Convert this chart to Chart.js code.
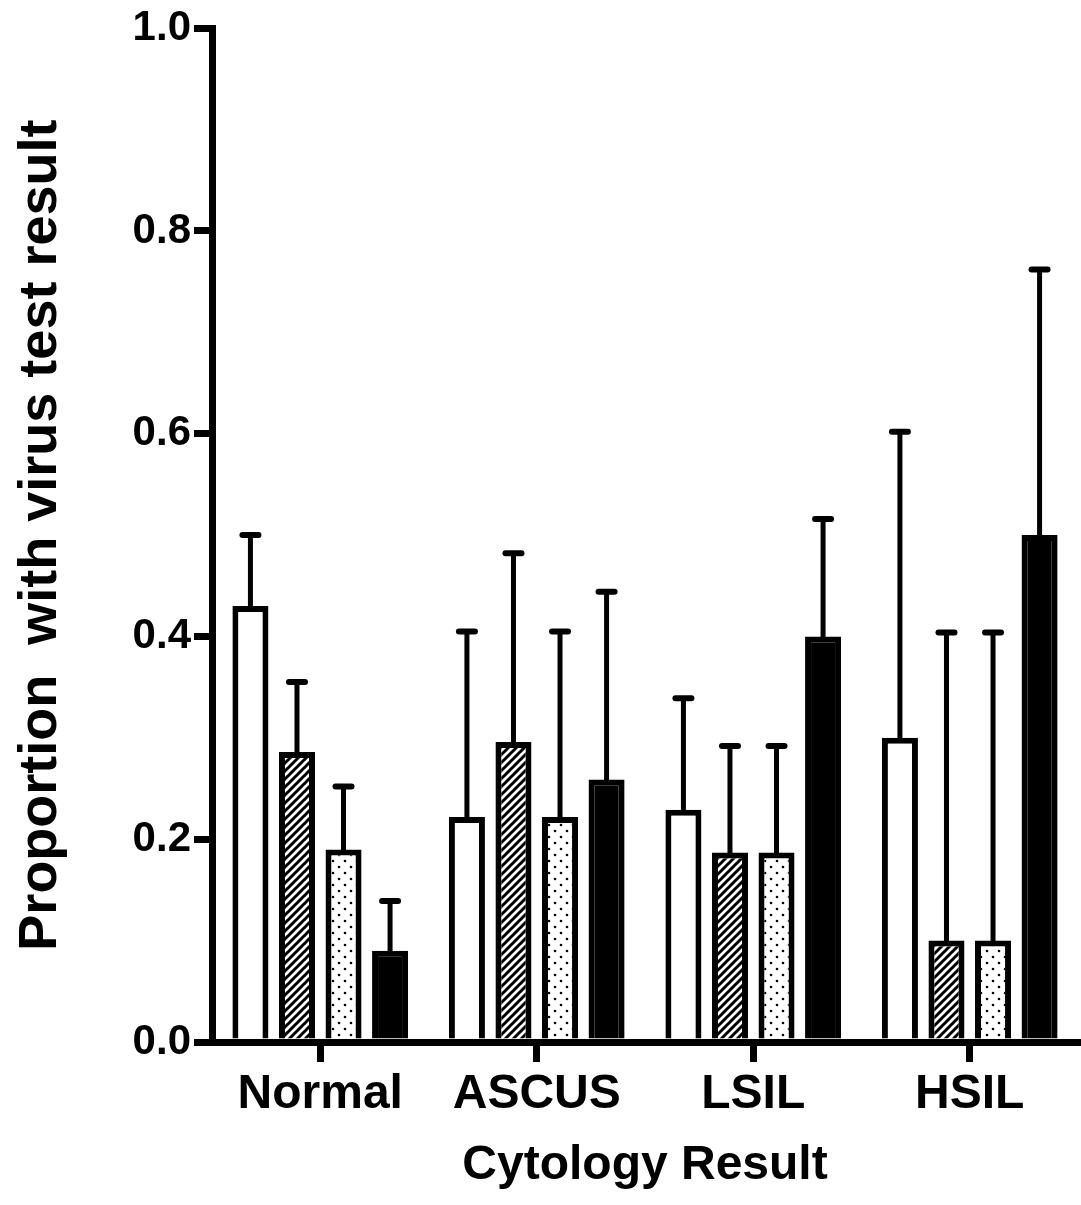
<!DOCTYPE html>
<html>
<head>
<meta charset="utf-8">
<script src="https://cdn.jsdelivr.net/npm/chart.js@4.4.1/dist/chart.umd.min.js"></script>
<style>
  html, body { margin: 0; padding: 0; background: #fff; }
  #wrap { width: 1081px; height: 1205px; position: relative; }
</style>
</head>
<body>
<div id="wrap"><canvas id="chart"></canvas></div>
<script>
// categories and values
const categories = ['Normal', 'ASCUS', 'LSIL', 'HSIL'];
const yTicks = [0.0, 0.2, 0.4, 0.6, 0.8, 1.0];

const openVals    = [0.430, 0.222, 0.229, 0.300];
const openTop     = [0.500, 0.405, 0.339, 0.602];
const hatchedVals = [0.286, 0.296, 0.187, 0.100];
const hatchedTop  = [0.355, 0.482, 0.292, 0.404];
const dottedVals  = [0.190, 0.222, 0.187, 0.100];
const dottedTop   = [0.252, 0.405, 0.292, 0.404];
const solidVals   = [0.090, 0.259, 0.400, 0.500];
const solidTop    = [0.139, 0.444, 0.516, 0.762];

Chart.defaults.color = '#000';
Chart.defaults.font.family = '"Liberation Sans", Arial, sans-serif';
Chart.defaults.font.weight = 'bold';

// fill patterns
function hatchPattern() {
  const s = 8;
  const c = document.createElement('canvas');
  c.width = s; c.height = s;
  const g = c.getContext('2d');
  g.fillStyle = '#fff';
  g.fillRect(0, 0, s, s);
  g.strokeStyle = '#000';
  g.lineWidth = 3;
  g.beginPath();
  g.moveTo(0, s); g.lineTo(s, 0);
  g.moveTo(-2, 2); g.lineTo(2, -2);
  g.moveTo(s - 2, s + 2); g.lineTo(s + 2, s - 2);
  g.stroke();
  return g.createPattern(c, 'repeat');
}

function dotPattern() {
  const s = 12;
  const c = document.createElement('canvas');
  c.width = s; c.height = s;
  const g = c.getContext('2d');
  g.fillStyle = '#fff';
  g.fillRect(0, 0, s, s);
  g.fillStyle = '#000';
  [[3, 3], [9, 9]].forEach(p => {
    g.beginPath();
    g.arc(p[0], p[1], 1.3, 0, Math.PI * 2);
    g.fill();
  });
  return g.createPattern(c, 'repeat');
}

// upper error bars with a centred cap
const errorBars = {
  id: 'errorBars',
  afterDatasetsDraw(chart) {
    const ctx = chart.ctx;
    const y = chart.scales.y;
    ctx.save();
    ctx.strokeStyle = '#000';
    chart.data.datasets.forEach((ds, i) => {
      const meta = chart.getDatasetMeta(i);
      meta.data.forEach((bar, j) => {
        const top = y.getPixelForValue(ds.errTop[j]);
        ctx.lineCap = 'butt';
        ctx.lineWidth = 5;
        ctx.beginPath();
        ctx.moveTo(bar.x, bar.y + 2);
        ctx.lineTo(bar.x, top);
        ctx.stroke();
        ctx.lineCap = 'round';
        ctx.lineWidth = 6;
        ctx.beginPath();
        ctx.moveTo(bar.x - 8, top);
        ctx.lineTo(bar.x + 8, top);
        ctx.stroke();
      });
    });
    ctx.restore();
  }
};

const barStyle = {
  borderColor: '#000',
  borderWidth: 6,
  borderSkipped: 'start',
  barPercentage: 0.774,
  categoryPercentage: 0.86
};

new Chart(document.getElementById('chart'), {
  type: 'bar',
  data: {
    labels: categories,
    datasets: [
      Object.assign({ label: 'Open', data: openVals, errTop: openTop, backgroundColor: '#fff' }, barStyle),
      Object.assign({ label: 'Hatched', data: hatchedVals, errTop: hatchedTop, backgroundColor: hatchPattern() }, barStyle),
      Object.assign({ label: 'Dotted', data: dottedVals, errTop: dottedTop, backgroundColor: dotPattern() }, barStyle),
      Object.assign({ label: 'Solid', data: solidVals, errTop: solidTop, backgroundColor: '#000' }, barStyle)
    ]
  },
  options: {
    responsive: true,
    maintainAspectRatio: false,
    animation: false,
    layout: { padding: { top: 27, right: 3, left: 0, bottom: 0 } },
    plugins: {
      legend: { display: false },
      tooltip: { enabled: false }
    },
    scales: {
      x: {
        offset: true,
        grid: { offset: false, drawOnChartArea: false, color: '#000', lineWidth: 7, tickLength: 20 },
        border: { color: '#000', width: 7 },
        ticks: { font: { size: 48, weight: 'bold' }, padding: 4 },
        title: {
          display: true,
          text: 'Cytology Result',
          font: { size: 48, weight: 'bold' },
          padding: { top: 0, bottom: 10 }
        },
        afterFit(scale) { scale.height = 163; }
      },
      y: {
        min: 0,
        max: 1,
        afterBuildTicks(scale) { scale.ticks = yTicks.map(v => ({ value: v })); },
        grid: { drawOnChartArea: false, color: '#000', lineWidth: 7, tickLength: 18 },
        border: { color: '#000', width: 7 },
        ticks: {
          font: { size: 42, weight: 'bold' },
          padding: 3,
          callback: v => Number(v).toFixed(1)
        },
        title: {
          display: true,
          text: 'Proportion  with virus test result',
          font: { size: 54, weight: 'bold' },
          padding: { top: 9, bottom: 0 }
        },
        afterFit(scale) { scale.width = 212; }
      }
    }
  },
  plugins: [errorBars]
});
</script>
</body>
</html>
